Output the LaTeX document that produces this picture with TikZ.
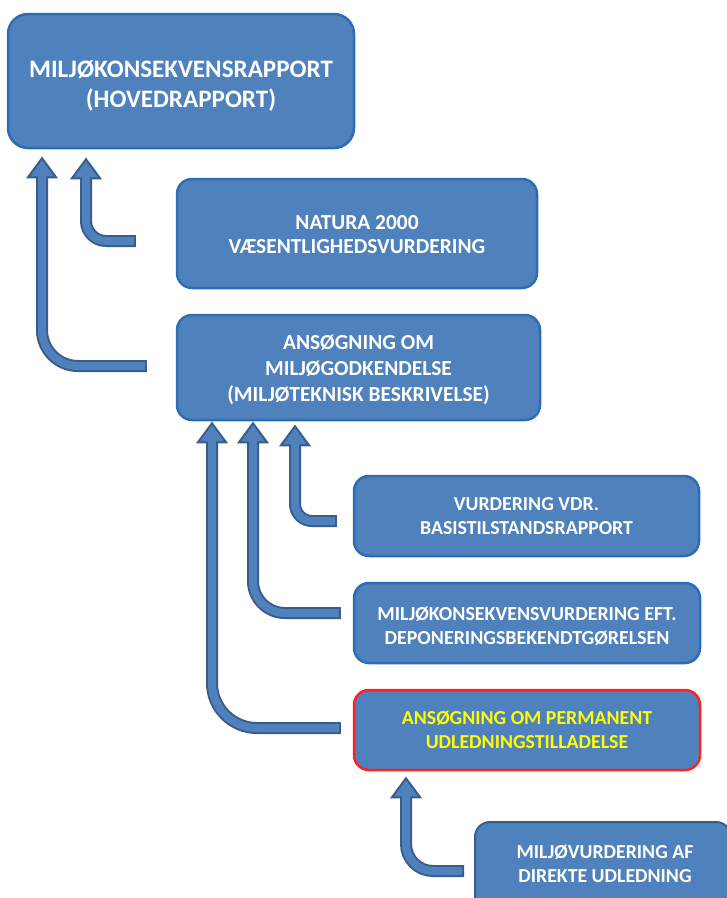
\documentclass[tikz,border=0pt]{standalone}
\usepackage{fontspec}
\setmainfont{Carlito}
\usetikzlibrary{calc}
\definecolor{boxfill}{HTML}{4F81BD}
\definecolor{boxline}{HTML}{2E6DB4}
\definecolor{arrline}{HTML}{385D8A}
\definecolor{hilite}{HTML}{FF2020}
\definecolor{yel}{HTML}{FFFF00}
\tikzset{
  box/.style={draw=boxline, line width=2.5pt, fill=boxfill, rounded corners=15pt,
    text=white, align=center, inner sep=0pt,
    font=\fontsize{19.8}{24}\selectfont\bfseries},
  bigbox/.style={box, rounded corners=20pt},
  txt/.style={text=white, align=center, inner sep=0pt},
  arrout/.style={draw=arrline, line width=12pt, line cap=butt},
  arrin/.style={draw=boxfill, line width=8pt, line cap=butt},
  arrhead/.style={fill=boxfill, draw=arrline, line width=2pt, line join=miter},
}
\newcommand\bentarr[3]{%
  \draw[arrout, rounded corners=#3] (#1) -- (#2 |- #1) -- ($(#2)+(0,14)$);
  \path[arrhead] (#2) -- ++(-14,19) -- ++(28,0) -- cycle;
  \draw[arrin, rounded corners=#3] ($(#1)+(-2,0)$) -- (#2 |- #1) -- ($(#2)+(0,16)$);
}
\begin{document}
\begin{tikzpicture}[x=1pt,y=-1pt]
\useasboundingbox (0,0) rectangle (727,898);
\clip (0,0) rectangle (727,898);
\fill[white] (0,0) rectangle (727,898);

\node[bigbox, minimum width=346pt, minimum height=134pt] (main) at (181,81) {};
\node[txt, font=\fontsize{25.1}{30.5}\selectfont\bfseries] at ($(main.center)+(0,5)$)
  {MILJØKONSEKVENSRAPPORT\\(HOVEDRAPPORT)};
\node[box, minimum width=360pt, minimum height=109pt] (natura) at (357,233.5) {};
\node[txt, font=\fontsize{21.4}{24.5}\selectfont\bfseries] at ($(natura.center)+(0,1)$)
  {NATURA 2000\\VÆSENTLIGHEDSVURDERING};
\node[box, minimum width=363pt, minimum height=105pt] (godk) at (358.5,367.5) {};
\node[txt, font=\fontsize{21.4}{26}\selectfont\bfseries] at ($(godk.center)+(0,2.5)$)
  {ANSØGNING OM\\MILJØGODKENDELSE\\(MILJØTEKNISK BESKRIVELSE)};
\node[box, minimum width=345pt, minimum height=80pt] (basis) at (526.5,516)
  {VURDERING VDR.\\BASISTILSTANDSRAPPORT};
\node[box, minimum width=346pt, minimum height=80pt] (depon) at (527,623) {};
\node[txt, font=\fontsize{19.9}{24}\selectfont\bfseries] at ($(depon.center)+(0,3)$)
  {MILJØKONSEKVENSVURDERING EFT.\\DEPONERINGSBEKENDTGØRELSEN};
\node[box, draw=hilite, text=yel, minimum width=346pt, minimum height=80pt] (udled) at (527,730)
  {ANSØGNING OM PERMANENT\\UDLEDNINGSTILLADELSE};
\node[box, draw=arrline, line width=2pt, minimum width=256pt, minimum height=90pt] (direkte) at (603,867) {};
\node[txt, font=\fontsize{19.8}{23.5}\selectfont\bfseries] at ($(direkte.center)+(2,-3)$)
  {MILJØVURDERING AF\\DIREKTE UDLEDNING};

% arrow end points
\coordinate (tA) at ($(natura.west)+(-40,7.5)$);
\coordinate (hA) at ($(main.south)+(-95,10)$);
\coordinate (tB) at ($(godk.west)+(-29,-1.5)$);
\coordinate (hB) at ($(main.south)+(-139,9)$);
\coordinate (tC) at ($(basis.west)+(-16,5)$);
\coordinate (hC) at ($(godk.south)+(-63.5,5)$);
\coordinate (tD) at ($(depon.west)+(-12,-10)$);
\coordinate (hD) at ($(godk.south)+(-105.5,2)$);
\coordinate (tE) at ($(udled.west)+(-12,-2)$);
\coordinate (hE) at ($(godk.south)+(-146.5,2)$);
\coordinate (tF) at ($(direkte.west)+(-10,4)$);
\coordinate (hF) at ($(udled.south)+(-121,7)$);

\bentarr{tA}{hA}{20pt}
\bentarr{tB}{hB}{36pt}
\bentarr{tC}{hC}{17pt}
\bentarr{tD}{hD}{32pt}
\bentarr{tE}{hE}{45pt}
\bentarr{tF}{hF}{27pt}
\end{tikzpicture}
\end{document}
